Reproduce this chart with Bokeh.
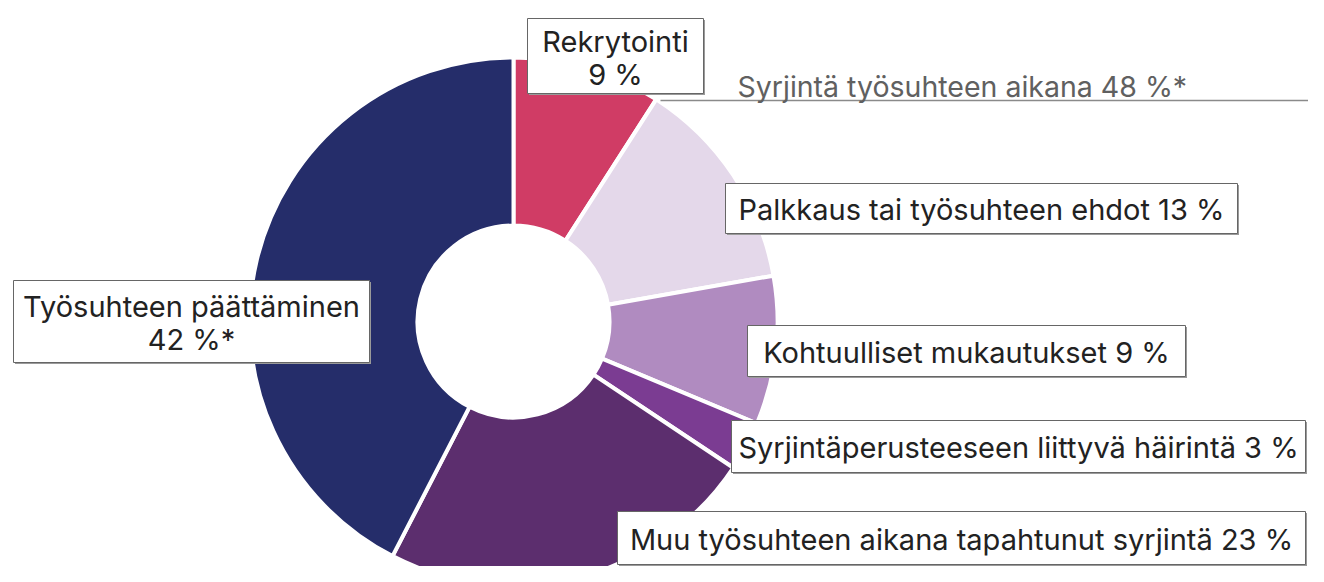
import numpy as np
from bokeh.plotting import figure
from bokeh.models import Range1d, ColumnDataSource
from bokeh.core.properties import value
from bokeh.embed import file_html
from bokeh.resources import INLINE

# ---- data ----
categories = ["Rekrytointi", "Palkkaus tai työsuhteen ehdot", "Kohtuulliset mukautukset",
              "Syrjintäperusteeseen liittyvä häirintä", "Muu työsuhteen aikana tapahtunut syrjintä",
              "Työsuhteen päättäminen"]
values = [9, 13, 9, 3, 23, 42]
label_texts = [["Rekrytointi", "9 %"],
               ["Palkkaus tai työsuhteen ehdot 13 %"],
               ["Kohtuulliset mukautukset 9 %"],
               ["Syrjintäperusteeseen liittyvä häirintä 3 %"],
               ["Muu työsuhteen aikana tapahtunut syrjintä 23 %"],
               ["Työsuhteen päättäminen", "42 %*"]]
group_label = "Syrjintä työsuhteen aikana 48 %*"
colors = ["#D03C65", "#E4D8EA", "#B08BC0", "#7B3C92", "#5C2E6E", "#252D6A"]

# ---- layout (screen pixels; data y = -screen y) ----
W, H = 1308, 566
cx, cy = 513, 321
r_in, r_out = 96, 264
boxes = [(527, 703, 18, 93), (725, 1237, 183, 233), (747, 1185, 325, 376),
         (731, 1305, 420, 472), (617, 1305, 511, 564), (13, 369, 280, 362)]
FONT = "Inter"

p = figure(width=W, height=H, output_backend="svg", toolbar_location=None,
           x_range=Range1d(0, W), y_range=Range1d(-H, 0),
           min_border=0, outline_line_color=None)
p.axis.visible = False
p.grid.visible = False
p.background_fill_color = "white"

total = float(sum(values))
cum = np.concatenate([[0], np.cumsum(values)])
start = np.pi / 2 - cum[1:] / total * 2 * np.pi
end = np.pi / 2 - cum[:-1] / total * 2 * np.pi
src = ColumnDataSource(dict(start=start, end=end, color=colors, cat=categories))
p.annular_wedge(x=cx, y=-cy, inner_radius=r_in, outer_radius=r_out,
                start_angle="start", end_angle="end", fill_color="color",
                line_color="white", line_width=4, source=src)

# group line and label
p.segment(x0=[660], y0=[-100], x1=[1330], y1=[-100], line_color="#8a8a8a", line_width=1.5)
p.text(x=[737], y=[-86], text=[group_label], text_font=value(FONT),
       text_font_size="28.5px", text_color="#606060", text_align="left",
       text_baseline="middle")

# label boxes
for (x0, x1, y0, y1), lines in zip(boxes, label_texts):
    p.quad(left=[x0 + 1.5], right=[x1 + 1.5], top=[-(y0 + 1.5)], bottom=[-(y1 + 1.5)],
           fill_color="#9a9a9a", line_color=None)
    p.quad(left=[x0], right=[x1], top=[-y0], bottom=[-y1],
           fill_color="white", line_color="#666666", line_width=1)
    xc = (x0 + x1) / 2
    if len(lines) == 1:
        ys = [(y0 + y1) / 2 + 1]
    else:
        m = (y0 + y1) / 2
        ys = [m - 15, m + 18]
    p.text(x=[xc] * len(lines), y=[-y for y in ys], text=lines,
           text_font=value(FONT), text_font_size="29px", text_color="#222222",
           text_align="center", text_baseline="middle")

open("out.html", "w").write(file_html(p, INLINE))
